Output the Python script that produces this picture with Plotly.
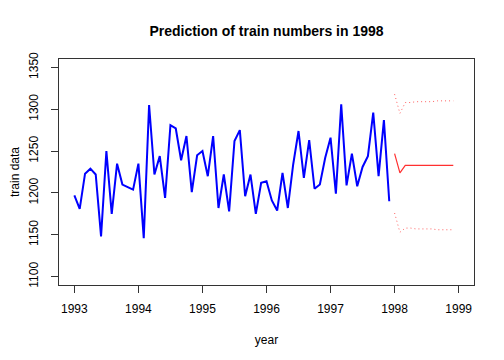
import plotly.graph_objects as go

# Monthly observed train numbers, Jan 1993 .. Dec 1997
start_year = 1993
train_data = [1197, 1181, 1223, 1229, 1222, 1148, 1250, 1175, 1235, 1210, 1207, 1204,
              1235, 1146, 1305, 1222, 1244, 1194, 1281, 1277, 1239, 1268, 1201, 1245,
              1250, 1220, 1268, 1182, 1222, 1178, 1262, 1275, 1196, 1222, 1175, 1212,
              1214, 1191, 1179, 1224, 1182, 1234, 1274, 1218, 1263, 1205, 1210, 1242,
              1266, 1199, 1306, 1209, 1247, 1208, 1231, 1244, 1296, 1220, 1287, 1190]

# Forecasts for 1998
pred_start = 1998
pred_mean = [1247, 1224, 1233, 1233, 1233, 1233, 1233, 1233, 1233, 1233, 1233, 1233]
pred_upper = [1318, 1295, 1308, 1308, 1309, 1309, 1309, 1309, 1310, 1310, 1310, 1310]
pred_lower = [1176, 1153, 1158, 1158, 1157, 1157, 1157, 1157, 1156, 1156, 1156, 1156]

x_ticks = [1993, 1994, 1995, 1996, 1997, 1998, 1999]
y_ticks = [1100, 1150, 1200, 1250, 1300, 1350]

x_obs = [start_year + i / 12 for i in range(len(train_data))]
x_pred = [pred_start + i / 12 for i in range(len(pred_mean))]

fig = go.Figure()
fig.add_trace(go.Scatter(x=x_obs, y=train_data, mode="lines",
                         line=dict(color="#0000ff", width=2), showlegend=False))
fig.add_trace(go.Scatter(x=x_pred, y=pred_mean, mode="lines",
                         line=dict(color="#ff3030", width=1.2), showlegend=False))
for band in (pred_upper, pred_lower):
    fig.add_trace(go.Scatter(x=x_pred, y=band, mode="lines",
                             line=dict(color="#ff6060", width=1, dash="1px,3px"),
                             showlegend=False))

W, H = 504, 360
font = "Liberation Sans, Arial, Helvetica, sans-serif"
fig.update_layout(
    width=W, height=H,
    margin=dict(l=51, r=38, t=51, b=83, autoexpand=False),
    paper_bgcolor="white", plot_bgcolor="white",
    font=dict(family=font, size=12, color="black"),
    title=dict(text="<b>Prediction of train numbers in 1998</b>",
               x=258.5 / W, xanchor="center",
               y=1 - 23 / H, yanchor="middle",
               font=dict(size=14, family=font, color="black")),
    xaxis=dict(range=[1992.76, 1999.24], tickvals=x_ticks,
               ticktext=[str(v) for v in x_ticks], automargin=False,
               showgrid=False, zeroline=False,
               showline=True, linecolor="#333", linewidth=1, mirror=True,
               ticks="outside", ticklen=7, tickcolor="#333",
               tickfont=dict(size=12), ticklabelstandoff=6,
               title=dict(text="year", standoff=20, font=dict(size=12))),
    yaxis=dict(range=[1090, 1360], tickvals=y_ticks,
               ticktext=[str(v) for v in y_ticks], tickangle=-90,
               automargin=False,
               showgrid=False, zeroline=False,
               showline=True, linecolor="#333", linewidth=1, mirror=True,
               ticks="outside", ticklen=7, tickcolor="#333",
               tickfont=dict(size=12), ticklabelstandoff=8,
               title=dict(text="train data", standoff=10, font=dict(size=12))),
)

fig.write_html("out.html")
